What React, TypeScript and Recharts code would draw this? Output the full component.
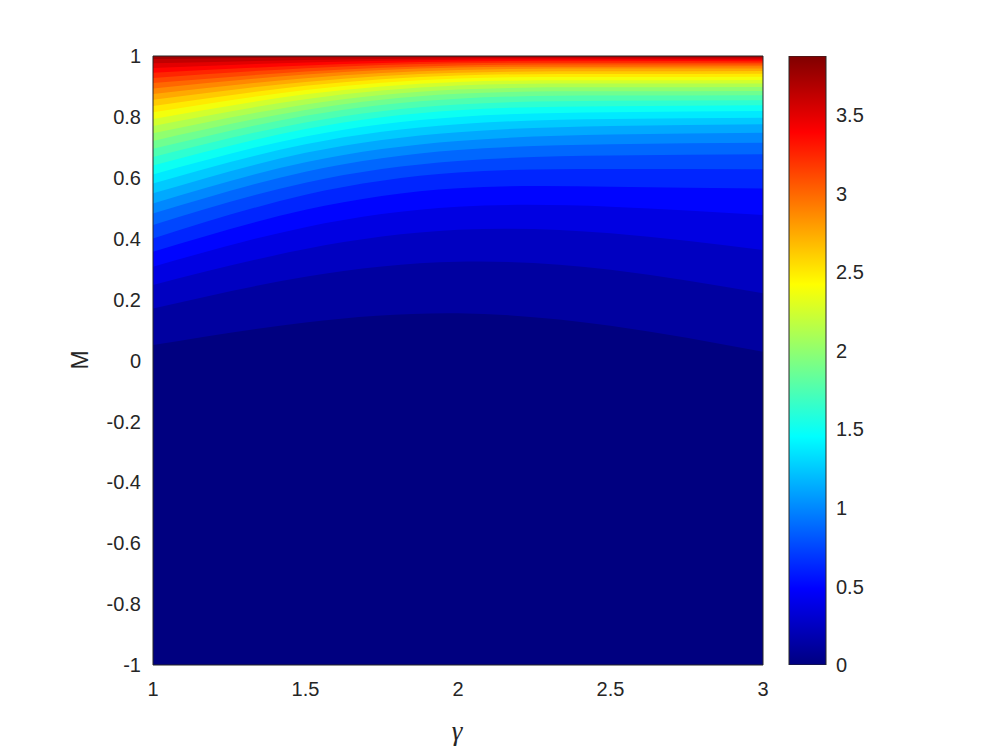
import React from 'react';
import { ComposedChart, Area, XAxis, YAxis, CartesianGrid, BarChart, Bar, Label } from 'recharts';

// ---------- data ----------
const gammaValues = [1, 1.5, 2, 2.5, 3];
const gammaTicks = [1, 1.5, 2, 2.5, 3];
const mTicks = [-1, -0.8, -0.6, -0.4, -0.2, 0, 0.2, 0.4, 0.6, 0.8, 1];
const colorbarTicks = [0, 0.5, 1, 1.5, 2, 2.5, 3, 3.5];
const colorbarRange = [0, 3.875];

// contour levels of the filled contour plot
const contourLevels = [
  0.125, 0.25, 0.375, 0.5, 0.625, 0.75, 0.875, 1, 1.125, 1.25,
  1.375, 1.5, 1.625, 1.75, 1.875, 2, 2.125, 2.25, 2.375, 2.5,
  2.625, 2.75, 2.875, 3, 3.125, 3.25, 3.375, 3.5, 3.625, 3.75,
];

// M position of each contour level, per gamma column
const mAtGamma1_0 = [
  0.051, 0.171, 0.248, 0.308, 0.357, 0.401, 0.445, 0.483, 0.516, 0.549,
  0.581, 0.611, 0.640, 0.668, 0.695, 0.721, 0.746, 0.770, 0.793, 0.815,
  0.836, 0.856, 0.875, 0.893, 0.911, 0.928, 0.945, 0.961, 0.976, 0.990,
];
const mAtGamma1_5 = [
  0.125, 0.275, 0.366, 0.438, 0.495, 0.544, 0.584, 0.620, 0.651, 0.682,
  0.710, 0.736, 0.760, 0.782, 0.804, 0.823, 0.841, 0.858, 0.874, 0.888,
  0.902, 0.915, 0.927, 0.939, 0.949, 0.960, 0.969, 0.979, 0.987, 0.995,
];
const mAtGamma2_0 = [
  0.155, 0.324, 0.429, 0.505, 0.566, 0.617, 0.655, 0.691, 0.721, 0.750,
  0.776, 0.800, 0.822, 0.841, 0.860, 0.876, 0.890, 0.903, 0.915, 0.926,
  0.936, 0.945, 0.954, 0.962, 0.969, 0.976, 0.982, 0.988, 0.993, 0.997,
];
const mAtGamma2_5 = [
  0.114, 0.298, 0.418, 0.505, 0.571, 0.629, 0.673, 0.710, 0.742, 0.770,
  0.793, 0.815, 0.835, 0.853, 0.870, 0.884, 0.897, 0.910, 0.920, 0.931,
  0.941, 0.950, 0.959, 0.965, 0.972, 0.978, 0.984, 0.989, 0.993, 0.997,
];
const mAtGamma3_0 = [
  0.029, 0.221, 0.363, 0.478, 0.565, 0.628, 0.677, 0.715, 0.748, 0.776,
  0.797, 0.819, 0.838, 0.855, 0.871, 0.885, 0.898, 0.910, 0.921, 0.932,
  0.942, 0.951, 0.959, 0.966, 0.972, 0.978, 0.983, 0.988, 0.992, 0.996,
];

const colorbarData = [{ name: 'colorbar', top: 3.875 }];

// ---------- styling helpers ----------
const AX = '#262626';
const FONT = '"Liberation Sans", Arial, Helvetica, sans-serif';
const FS = 20;

const clamp01 = (v: number) => Math.max(0, Math.min(1, v));
const jet = (t: number) => {
  const x = clamp01(t);
  const r = clamp01(Math.min(4 * x - 1.5, -4 * x + 4.5));
  const g = clamp01(Math.min(4 * x - 0.5, -4 * x + 3.5));
  const b = clamp01(Math.min(4 * x + 0.5, -4 * x + 2.5));
  return `rgb(${Math.round(r * 255)},${Math.round(g * 255)},${Math.round(b * 255)})`;
};
const jetStops = [0, 0.125, 0.25, 0.375, 0.5, 0.625, 0.75, 0.875, 1];

const columns = [mAtGamma1_0, mAtGamma1_5, mAtGamma2_0, mAtGamma2_5, mAtGamma3_0];
const contourData = gammaValues.map((g, i) => {
  const row: Record<string, number> = { gamma: g };
  columns[i].forEach((m, k) => {
    row[`c${k}`] = m;
  });
  return row;
});

const tickStyle = { fill: AX, fontSize: FS, fontFamily: FONT };
const fmt = (v: number) => String(v);

export default function App() {
  const cmax = colorbarRange[1];
  return (
    <div style={{ position: 'absolute', left: 0, top: 0, width: 996, height: 747, background: '#fff' }}>
      <div style={{ position: 'absolute', left: 0, top: 0 }}>
        <ComposedChart
          width={996}
          height={747}
          data={contourData}
          margin={{ top: 56, right: 233, bottom: 22, left: 93 }}
        >
          <CartesianGrid fill={jet(0)} fillOpacity={1} stroke="none" horizontal={false} vertical={false} />
          <XAxis
            dataKey="gamma"
            type="number"
            domain={[1, 3]}
            ticks={gammaTicks}
            allowDataOverflow
            interval={0}
            height={60}
            tickLine={false}
            tickSize={0}
            tickMargin={17}
            axisLine={{ stroke: AX }}
            tick={tickStyle}
            tickFormatter={fmt}
          >
            <Label
              content={() => (
                <text
                  x={457}
                  y={731}
                  textAnchor="middle"
                  dominantBaseline="central"
                  fontFamily='"Liberation Serif", "Times New Roman", serif'
                  fontStyle="italic"
                  fontSize={27}
                  fill={AX}
                >
                  γ
                </text>
              )}
            />
          </XAxis>
          <YAxis
            type="number"
            domain={[-1, 1]}
            ticks={mTicks}
            allowDataOverflow
            interval={0}
            width={60}
            tickLine={false}
            tickSize={0}
            tickMargin={12}
            axisLine={{ stroke: AX }}
            tick={tickStyle}
            tickFormatter={fmt}
          >
            <Label
              content={() => (
                <text
                  x={80}
                  y={360}
                  textAnchor="middle"
                  dominantBaseline="central"
                  transform="rotate(-90 80 360)"
                  fontFamily={FONT}
                  fontSize={23}
                  fill={AX}
                >
                  M
                </text>
              )}
            />
          </YAxis>
          <XAxis
            xAxisId="xb"
            orientation="bottom"
            mirror
            type="number"
            domain={[1, 3]}
            ticks={gammaTicks}
            allowDataOverflow
            interval={0}
            tick={false}
            axisLine={false}
            tickLine={{ stroke: AX }}
            tickSize={6}
          />
          <XAxis
            xAxisId="xt"
            orientation="top"
            mirror
            type="number"
            domain={[1, 3]}
            ticks={gammaTicks}
            allowDataOverflow
            interval={0}
            tick={false}
            axisLine={{ stroke: AX }}
            tickLine={{ stroke: AX }}
            tickSize={6}
          />
          <YAxis
            yAxisId="yl"
            orientation="left"
            mirror
            type="number"
            domain={[-1, 1]}
            ticks={mTicks}
            allowDataOverflow
            interval={0}
            tick={false}
            axisLine={false}
            tickLine={{ stroke: AX }}
            tickSize={6}
          />
          <YAxis
            yAxisId="yr"
            orientation="right"
            mirror
            type="number"
            domain={[-1, 1]}
            ticks={mTicks}
            allowDataOverflow
            interval={0}
            tick={false}
            axisLine={{ stroke: AX }}
            tickLine={{ stroke: AX }}
            tickSize={6}
          />
          {contourLevels.map((lv, k) => (
            <Area
              key={`c${k}`}
              dataKey={`c${k}`}
              type="natural"
              baseValue={1}
              fill={jet(lv / cmax)}
              fillOpacity={1}
              stroke="none"
              dot={false}
              activeDot={false}
              isAnimationActive={false}
            />
          ))}
        </ComposedChart>
      </div>
      <div style={{ position: 'absolute', left: 780, top: 0 }}>
        <BarChart
          width={150}
          height={747}
          data={colorbarData}
          margin={{ top: 56, right: 44, bottom: 82, left: 9 }}
          barCategoryGap={0}
          barGap={0}
        >
          <defs>
            <linearGradient id="jetGrad" x1="0" y1="1" x2="0" y2="0">
              {jetStops.map((s) => (
                <stop key={s} offset={s} stopColor={jet(s)} />
              ))}
            </linearGradient>
          </defs>
          <XAxis dataKey="name" hide />
          <YAxis
            orientation="right"
            type="number"
            domain={colorbarRange}
            ticks={colorbarTicks}
            allowDataOverflow
            interval={0}
            width={60}
            tickLine={false}
            tickSize={0}
            tickMargin={10}
            axisLine={false}
            tick={tickStyle}
            tickFormatter={fmt}
          />
          <YAxis
            yAxisId="cbm"
            orientation="right"
            mirror
            type="number"
            domain={colorbarRange}
            ticks={colorbarTicks}
            allowDataOverflow
            interval={0}
            tick={false}
            axisLine={false}
            tickLine={{ stroke: AX }}
            tickSize={7}
          />
          <Bar dataKey="top" fill="url(#jetGrad)" stroke={AX} strokeWidth={1} isAnimationActive={false} />
        </BarChart>
      </div>
    </div>
  );
}
